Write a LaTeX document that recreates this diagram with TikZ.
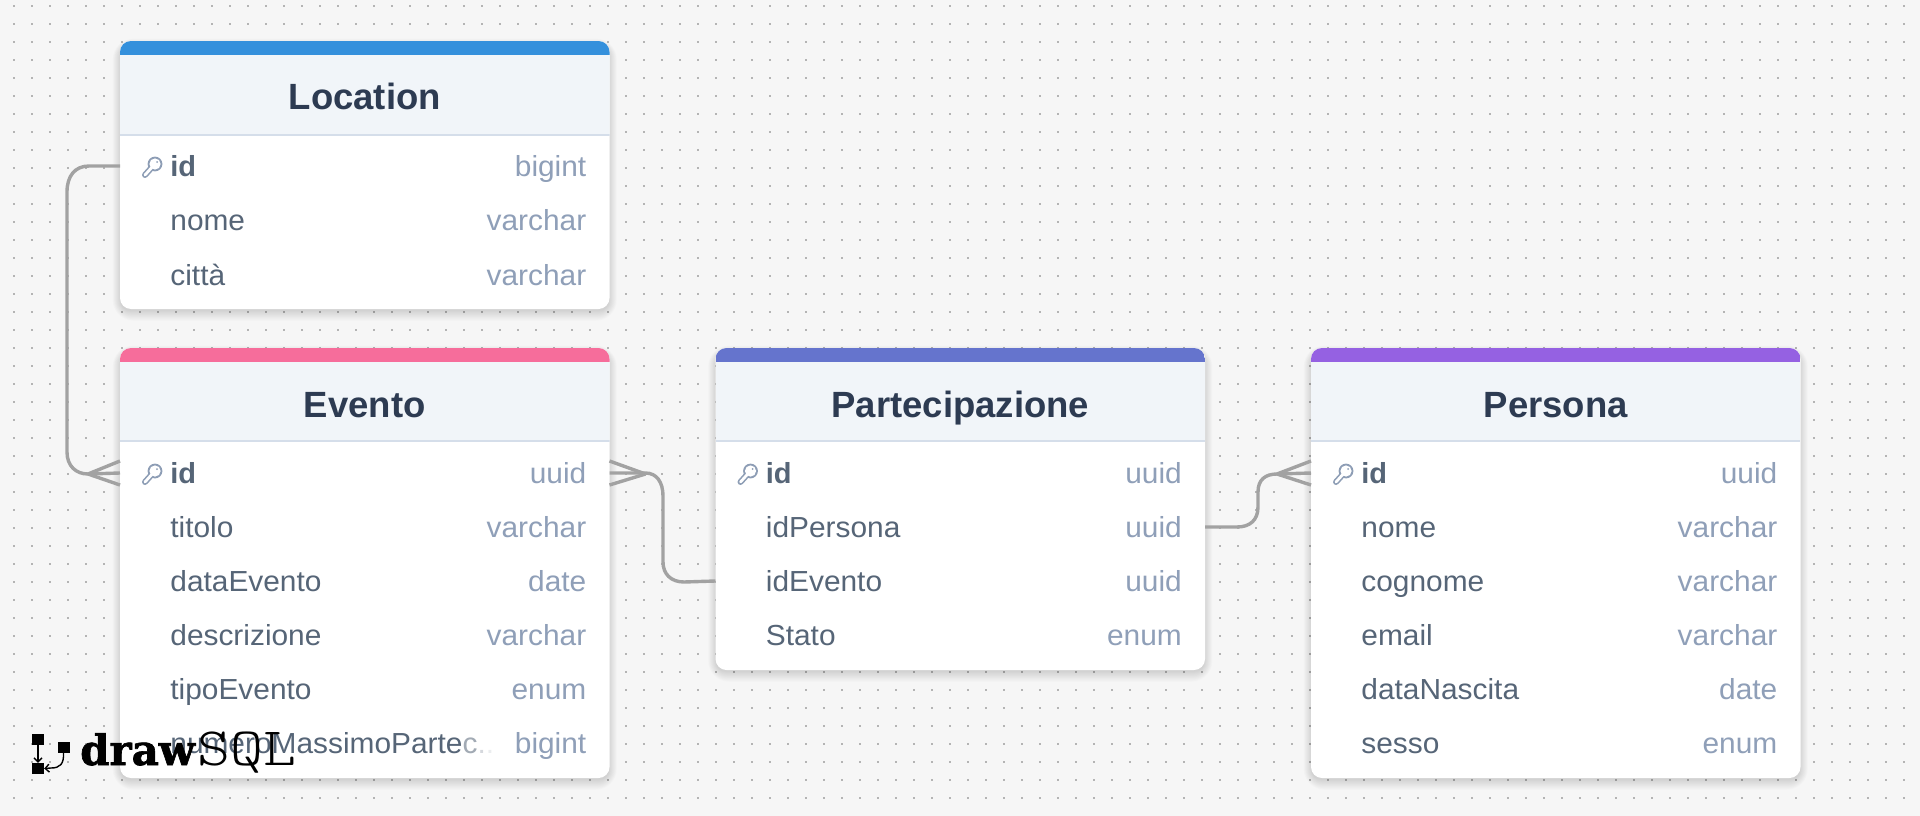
\documentclass[tikz,border=0pt]{standalone}
\usepackage{fontspec}
\usetikzlibrary{arrows.meta}
\setmainfont{Liberation Sans}
\newfontfamily\bodyf[FakeStretch=1.03]{Liberation Sans}
\newfontfamily\logof[FakeBold=1.6]{DejaVu Serif Bold}
\newfontfamily\logog{Latin Modern Mono Light}
\definecolor{bgc}{HTML}{F6F6F6}
\definecolor{dotc}{HTML}{B4B4B4}
\definecolor{headc}{HTML}{F1F5F9}
\definecolor{linec}{HTML}{D5DEEA}
\definecolor{titlec}{HTML}{2D3B52}
\definecolor{namec}{HTML}{566577}
\definecolor{typec}{HTML}{8F9FB8}
\definecolor{keyc}{HTML}{8D9DB5}
\definecolor{connc}{HTML}{A2A2A2}
\definecolor{cblue}{HTML}{3490DC}
\definecolor{cpink}{HTML}{F66D9B}
\definecolor{cindigo}{HTML}{6574CD}
\definecolor{cpurple}{HTML}{9561E2}
\tikzset{
  cardbox/.style={anchor=north west,inner sep=0pt,outer sep=0pt,fill=white,rounded corners=11pt},
  titletext/.style={inner sep=0pt,anchor=base,text=titlec,font=\bfseries\fontsize{36.5}{40}\selectfont},
  rowbox/.style={anchor=west,inner sep=0pt,outer sep=0pt,minimum width=489.5pt,minimum height=40pt},
  nametext/.style={inner sep=0pt,anchor=base west,text=namec,font=\bodyf\fontsize{29}{32}\selectfont},
  pktext/.style={inner sep=0pt,anchor=base west,text=namec,font=\bfseries\fontsize{29}{32}\selectfont},
  typetext/.style={inner sep=0pt,anchor=base east,text=typec,font=\bodyf\fontsize{29}{32}\selectfont},
  conn/.style={draw=connc,line width=3.4pt},
  logobox/.style={fill=black,inner sep=0pt,minimum width=12pt,minimum height=11pt},
  logoline/.style={draw=black,line width=1.4pt,-{Straight Barb[length=4pt,width=8pt]}},
}
% #1 name, #2 left, #3 top, #4 height, #5 colour, #6 title, #7 header line y, #8 title baseline
\newcommand\erdcard[8]{%
  \foreach \s in {1,...,12}{%
    \fill[black,opacity=.012,rounded corners=\s pt+9pt]
      (#2+1-\s*.7,#3+6-\s*.7) rectangle (#2+488.5+\s*.7,#3+#4+1+\s*.9);
  }
  \node[cardbox,minimum width=489.5pt,minimum height=#4 pt,
    path picture={%
      \pgfmathsetmacro\hh{#7-#3}%
      \begin{scope}[sharp corners]
      \fill[headc] (path picture bounding box.north west) rectangle ([yshift=-\hh pt]path picture bounding box.north east);
      \fill[#5] (path picture bounding box.north west) rectangle ([yshift=-14pt]path picture bounding box.north east);
      \draw[linec,line width=1.5pt] ([yshift=-\hh pt]path picture bounding box.north west) -- ([yshift=-\hh pt]path picture bounding box.north east);
      \end{scope}
    }] (#1) at (#2,#3) {};
  \node[titletext] (#1-title) at (#2+244.75,#8) {#6};
}
% #1 row name, #2 card left, #3 baseline, #4 style, #5 label, #6 type
\newcommand\erdrow[6]{%
  \node[rowbox] (#1) at (#2,#3-10) {};
  \node[#4] (#1-name) at (#2+50.2,#3) {#5};
  \node[typetext] (#1-type) at (#2+466.5,#3) {#6};
}
% key icon: #1 card left, #2 row centre y
\newcommand\keyicon[2]{%
  \begin{scope}[shift={(#1,#2)}]
    \draw[keyc,line width=6pt,line cap=round] (34,-2) -- (25,8);
    \fill[keyc] (35,-3) circle (7.4);
    \draw[white,line width=2.8pt,line cap=round] (34,-2) -- (25,8);
    \fill[white] (35,-3) circle (5.6);
    \fill[keyc] (37,-5) circle (1);
  \end{scope}%
}
\begin{document}
\begin{tikzpicture}[x=1pt,y=-1pt]
\useasboundingbox (0,0) rectangle (1920,816);
\fill[bgc] (0,0) rectangle (1920,816);
% dot grid
\foreach \k in {0,...,44}{
  \draw[dotc,line width=2pt,dash pattern=on 2pt off 16pt] (13,6.3+18*\k) -- (1920,6.3+18*\k);
}
% Location
\erdcard{loc}{120}{41}{268}{cblue}{Location}{135}{110}
\erdrow{loc-id}{120}{176}{pktext}{id}{bigint}
\erdrow{loc-nome}{120}{230}{nametext}{nome}{varchar}
\erdrow{loc-citta}{120}{285}{nametext}{città}{varchar}
\keyicon{120}{167}
% Evento
\erdcard{eve}{120}{348}{430}{cpink}{Evento}{441}{417}
\erdrow{eve-id}{120}{483}{pktext}{id}{uuid}
\erdrow{eve-titolo}{120}{537}{nametext}{titolo}{varchar}
\erdrow{eve-data}{120}{591}{nametext}{dataEvento}{date}
\erdrow{eve-descr}{120}{645}{nametext}{descrizione}{varchar}
\erdrow{eve-tipo}{120}{699}{nametext}{tipoEvento}{enum}
\erdrow{eve-num}{120}{753}{nametext}{numeroMassimoParte\textcolor{namec!55!white}{c}\textcolor{namec!25!white}{.}\textcolor{namec!12!white}{.}}{bigint}
\keyicon{120}{474}
% Partecipazione
\erdcard{par}{715.5}{348}{322}{cindigo}{Partecipazione}{441}{417}
\erdrow{par-id}{715.5}{483}{pktext}{id}{uuid}
\erdrow{par-pers}{715.5}{537}{nametext}{idPersona}{uuid}
\erdrow{par-eve}{715.5}{591}{nametext}{idEvento}{uuid}
\erdrow{par-stato}{715.5}{645}{nametext}{Stato}{enum}
\keyicon{715.5}{474}
% Persona
\erdcard{per}{1311}{348}{430}{cpurple}{Persona}{441}{417}
\erdrow{per-id}{1311}{483}{pktext}{id}{uuid}
\erdrow{per-nome}{1311}{537}{nametext}{nome}{varchar}
\erdrow{per-cogn}{1311}{591}{nametext}{cognome}{varchar}
\erdrow{per-email}{1311}{645}{nametext}{email}{varchar}
\erdrow{per-nasc}{1311}{699}{nametext}{dataNascita}{date}
\erdrow{per-sesso}{1311}{753}{nametext}{sesso}{enum}
\keyicon{1311}{474}
% connectors
\draw[conn] (loc-id.west) -- ++(-31,0) .. controls +(-14,0) and (67,176) .. (67,192) -- (67,452)
  .. controls (67,466) and (76,474) .. (88,474) -- (eve-id.west);
\draw[conn] (88,474) -- ([yshift=12pt]eve-id.west);
\draw[conn] (88,474) -- ([yshift=-12pt]eve-id.west);
\draw[conn] (eve-id.east) -- ++(36,0) .. controls +(11,0) and (663,482) .. (663,496) -- (663,562)
  .. controls (663,574) and (671,582) .. (684,582) -- (par-eve.west);
\draw[conn] (645.5,474) -- ([yshift=12pt]eve-id.east);
\draw[conn] (645.5,474) -- ([yshift=-12pt]eve-id.east);
\draw[conn] (par-pers.east) -- ++(32,0) .. controls +(13,0) and (1258,520) .. (1258,507) -- (1258,492)
  .. controls (1258,480) and (1265,474) .. (1277,474) -- (per-id.west);
\draw[conn] (1277,474) -- ([yshift=12pt]per-id.west);
\draw[conn] (1277,474) -- ([yshift=-12pt]per-id.west);
% logo
\node[logobox] (lg-a) at (38,739.5) {};
\node[logobox] (lg-b) at (38,768.5) {};
\node[logobox] (lg-c) at (63.5,747.5) {};
\draw[logoline] (lg-a.south) -- (lg-b.north);
\draw[logoline] (lg-c.south) .. controls (64,764) and (60,768) .. (51,768) -- (lg-b.east);
\node[inner sep=0pt,anchor=base west,font=\logof\fontsize{42}{44}\selectfont] (lg-draw) at (80,765) {draw};
\node[inner sep=0pt,anchor=base west,xscale=1.16,font=\logog\fontsize{54}{56}\selectfont] (lg-sql) at (197,765) {SQL};
\end{tikzpicture}
\end{document}
